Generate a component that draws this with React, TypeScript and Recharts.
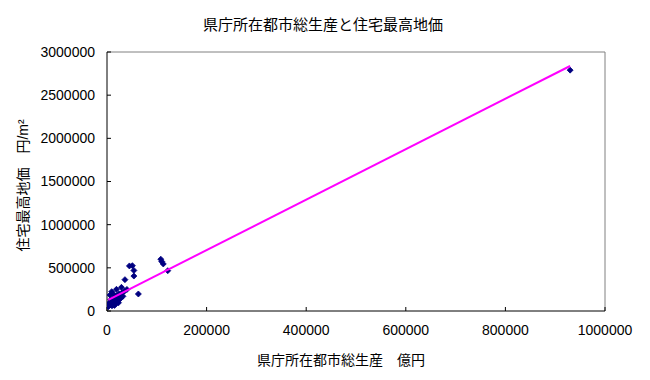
import {
  ScatterChart,
  Scatter,
  XAxis,
  YAxis,
  ReferenceLine,
  Label,
} from "recharts";

// 県庁所在都市総生産 (億円) vs 住宅最高地価 (円/m²)
const gdp = [
  930000, 108000, 110000, 113000, 122000, 45000, 51000, 54000, 54000, 36000,
  63000, 29000, 19000, 9400, 6000, 12700, 26000, 22700, 16000, 9400,
  6000, 2700, 14000, 18000, 20000, 24000, 11000, 8000, 13000, 17000,
  21000, 25000, 28000, 30000, 32000, 10000, 12000, 15000, 5000, 7500,
  19000, 23000, 4000, 35000, 40000,
];
const landPrice = [
  2790000, 600000, 572000, 545000, 467000, 522000, 525000, 470000, 405000, 363000,
  197000, 274000, 251000, 224000, 185000, 197000, 166000, 127000, 108000, 89000,
  70000, 50000, 150000, 135000, 180000, 200000, 120000, 105000, 95000, 80000,
  110000, 140000, 150000, 210000, 170000, 60000, 75000, 65000, 95000, 130000,
  160000, 95000, 80000, 230000, 250000,
];

// trend line end points
const trendX = [2700, 930000];
const trendY = [129000, 2838000];

const xTicks = [0, 200000, 400000, 600000, 800000, 1000000];
const yTicks = [0, 500000, 1000000, 1500000, 2000000, 2500000, 3000000];

const points = gdp.map((x, i) => ({ x, y: landPrice[i] }));
const trend = trendX.map((x, i) => ({ x, y: trendY[i] }));

const FONT = "'Liberation Sans', 'Noto Sans CJK JP', sans-serif";

const Diamond = (props: any) => {
  const { cx, cy } = props;
  if (cx == null || cy == null) return <g />;
  const r = 3;
  return (
    <path
      d={`M${cx},${cy - r}L${cx + r},${cy}L${cx},${cy + r}L${cx - r},${cy}Z`}
      fill="#000080"
      stroke="#000080"
      strokeWidth={0.8}
    />
  );
};

export default function App() {
  return (
    <div
      style={{
        position: "absolute",
        left: 0,
        top: 0,
        width: 650,
        height: 380,
        background: "#fff",
        fontFamily: FONT,
      }}
    >
      <div
        style={{
          position: "absolute",
          left: 0,
          width: 650,
          top: 13,
          textAlign: "center",
          fontSize: 15,
          color: "#000",
          paddingLeft: 0,
        }}
      >
        <span style={{ marginLeft: -4 }}>県庁所在都市総生産と住宅最高地価</span>
      </div>
      <ScatterChart
        width={650}
        height={380}
        margin={{ top: 52, right: 45, bottom: 0, left: 0 }}
        style={{ position: "absolute", left: 0, top: 0 }}
      >
        <XAxis
          type="number"
          dataKey="x"
          domain={[0, 1000000]}
          ticks={xTicks}
          allowDataOverflow
          height={69}
          stroke="#000"
          tickSize={-4}
          tickMargin={18}
          tick={{ fill: "#000", fontSize: 14, fontFamily: FONT }}
        >
          <Label
            content={({ viewBox }: any) => (
              <text
                x={viewBox.x + viewBox.width / 2 - 15}
                y={viewBox.y + 54}
                textAnchor="middle"
                fontSize={14}
                fontFamily={FONT}
                fill="#000"
              >
                県庁所在都市総生産　億円
              </text>
            )}
          />
        </XAxis>
        <YAxis
          type="number"
          dataKey="y"
          domain={[0, 3000000]}
          ticks={yTicks}
          allowDataOverflow
          width={107}
          stroke="#000"
          tickSize={-4}
          tickMargin={16}
          tick={{ fill: "#000", fontSize: 14, fontFamily: FONT }}
        >
          <Label
            content={({ viewBox }: any) => {
              const cx = 23;
              const cy = viewBox.y + viewBox.height / 2 + 4;
              return (
                <text
                  x={cx}
                  y={cy}
                  transform={`rotate(-90, ${cx}, ${cy})`}
                  textAnchor="middle"
                  dominantBaseline="central"
                  fontSize={14}
                  fontFamily={FONT}
                  fill="#000"
                >
                  住宅最高地価　円/m²
                </text>
              );
            }}
          />
        </YAxis>
        <ReferenceLine y={3000000} stroke="#808080" />
        <ReferenceLine x={1000000} stroke="#808080" />
        <Scatter
          data={points}
          shape={<Diamond />}
          isAnimationActive={false}
        />
        <Scatter
          data={trend}
          line={{ stroke: "#FF00FF", strokeWidth: 2 }}
          shape={() => <g />}
          isAnimationActive={false}
        />
      </ScatterChart>
    </div>
  );
}
